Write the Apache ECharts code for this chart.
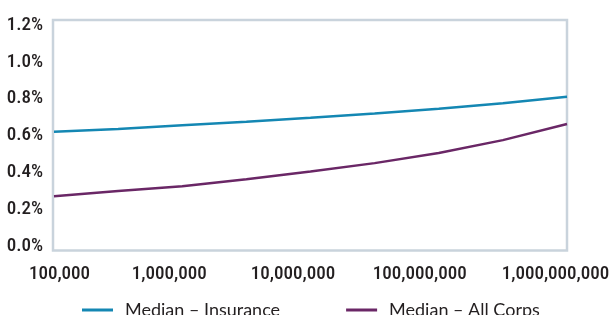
<!DOCTYPE html>
<html>
<head>
<meta charset="utf-8">
<style>html,body{margin:0;padding:0;background:#fff;}#c{width:611px;height:315px;}</style>
<script src="https://cdn.jsdelivr.net/npm/echarts@6/dist/echarts.min.js"></script>
</head>
<body>
<div id="c"></div>
<script>
// Data
const xValues = [100000, 316228, 1000000, 3162278, 10000000, 31622777, 100000000, 316227766, 1000000000];
const insurance = [0.62, 0.635, 0.655, 0.675, 0.697, 0.72, 0.745, 0.775, 0.81];
const allCorps = [0.27, 0.298, 0.325, 0.362, 0.405, 0.45, 0.505, 0.575, 0.662];
const xTickLabels = ['100,000', '1,000,000', '10,000,000', '100,000,000', '1,000,000,000'];
const yTicks = [0, 0.2, 0.4, 0.6, 0.8, 1.0, 1.2];
const seriesNames = ['Median \u2013 Insurance', 'Median \u2013 All Corps'];

// Styles
const labelFont = '"Roboto Condensed", "Open Sans", sans-serif';
const labelPads = [[0,0,0,11],[0,26,0,0],[0,35,0,0],[0,38,0,0],[0,23,0,0]];
const rich = {};
labelPads.forEach((p, i) => {
  rich['s' + i] = { padding: p, fontSize: 19, fontWeight: 500, fontFamily: labelFont, color: '#231f20' };
});

const chart = echarts.init(document.getElementById('c'), null, { renderer: 'canvas' });
chart.setOption({
  animation: false,
  grid: [
    { left: 54, right: 44, top: 25, bottom: 69, containLabel: false, outerBoundsMode: 'none' },
    { left: 53, right: 44, top: 20, bottom: 64.5, show: true, borderColor: '#c9d3dc', borderWidth: 2.5, backgroundColor: 'transparent', outerBoundsMode: 'none' }
  ],
  xAxis: [
    {
      type: 'log', gridIndex: 0, logBase: 10, min: xValues[0], max: xValues[xValues.length - 1],
      axisLine: { show: false }, axisTick: { show: false }, splitLine: { show: false },
      axisLabel: {
        margin: 19, fontSize: 19, fontWeight: 500, fontFamily: labelFont, color: '#231f20',
        showMinLabel: true, showMaxLabel: true, hideOverlap: false,
        formatter: function (v) {
          const i = Math.round(Math.log10(v)) - 5;
          return '{s' + i + '|' + xTickLabels[i] + '}';
        },
        rich: rich
      }
    },
    { type: 'value', gridIndex: 1, show: false, min: 0, max: 1 }
  ],
  yAxis: [
    {
      type: 'value', gridIndex: 0, min: yTicks[0], max: yTicks[yTicks.length - 1], interval: 0.2,
      axisLine: { show: false }, axisTick: { show: false }, splitLine: { show: false },
      axisLabel: {
        margin: 11, fontSize: 19, fontWeight: 500, fontFamily: labelFont, color: '#231f20',
        formatter: v => v.toFixed(1) + '%'
      }
    },
    { type: 'value', gridIndex: 1, show: false, min: 0, max: 1 }
  ],
  legend: {
    data: seriesNames,
    left: 77, top: 296,
    icon: 'rect', itemWidth: 31, itemHeight: 3, itemGap: 66,
    textStyle: { fontSize: 18, fontFamily: 'Lato, "Noto Sans", sans-serif', color: '#231f20', padding: [0, 0, 0, 7] }
  },
  series: [
    {
      name: seriesNames[0], type: 'line', xAxisIndex: 0, yAxisIndex: 0,
      data: xValues.map((x, i) => [x, insurance[i]]),
      showSymbol: false, symbol: 'none',
      lineStyle: { color: '#1487b3', width: 2.5 }, itemStyle: { color: '#1487b3' }
    },
    {
      name: seriesNames[1], type: 'line', xAxisIndex: 0, yAxisIndex: 0,
      data: xValues.map((x, i) => [x, allCorps[i]]),
      showSymbol: false, symbol: 'none',
      lineStyle: { color: '#6a2766', width: 2.5 }, itemStyle: { color: '#6a2766' }
    }
  ]
});
</script>
</body>
</html>
